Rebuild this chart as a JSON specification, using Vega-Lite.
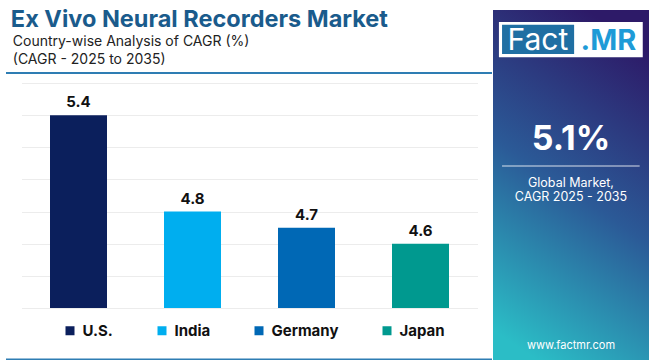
{
  "$schema": "https://vega.github.io/schema/vega-lite/v6.json",
  "padding": {"left": 5, "top": 8, "right": 3, "bottom": 0},
  "background": "white",
  "config": {"font": "Inter", "view": {"stroke": null}},
  "datasets": {
    "cagr": [
      {"country": "U.S.", "cagr": 5.4},
      {"country": "India", "cagr": 4.8},
      {"country": "Germany", "cagr": 4.7},
      {"country": "Japan", "cagr": 4.6}
    ],
    "one": [{"label": "panel"}]
  },
  "spacing": 0,
  "resolve": {"scale": {"color": "independent"}, "legend": {"color": "independent"}},
  "hconcat": [
    {
      "spacing": 9,
      "center": true,
      "resolve": {"scale": {"color": "independent"}, "legend": {"color": "independent"}},
      "vconcat": [
        {
          "width": 486,
          "height": 63,
          "data": {"name": "one"},
          "layer": [
            {
              "mark": {"type": "text", "text": "Ex Vivo Neural Recorders Market", "fontSize": 23.5, "fontWeight": 700, "color": "#1a5b8c", "align": "left", "baseline": "alphabetic"},
              "encoding": {
                "x": {"datum": 0.01, "type": "quantitative", "scale": {"domain": [0, 1]}, "axis": null},
                "y": {"datum": 0.73, "type": "quantitative", "scale": {"domain": [0, 1]}, "axis": null}
              }
            },
            {
              "mark": {"type": "text", "text": "Country-wise Analysis of CAGR (%)", "fontSize": 14, "color": "#222222", "align": "left", "baseline": "alphabetic"},
              "encoding": {
                "x": {"datum": 0.014, "type": "quantitative", "axis": null},
                "y": {"datum": 0.43, "type": "quantitative", "axis": null}
              }
            },
            {
              "mark": {"type": "text", "text": "(CAGR - 2025 to 2035)", "fontSize": 14, "color": "#222222", "align": "left", "baseline": "alphabetic"},
              "encoding": {
                "x": {"datum": 0.014, "type": "quantitative", "axis": null},
                "y": {"datum": 0.143, "type": "quantitative", "axis": null}
              }
            },
            {
              "mark": {"type": "rule", "color": "#2e7db3", "strokeWidth": 2},
              "encoding": {
                "x": {"datum": 0, "type": "quantitative", "axis": null},
                "x2": {"datum": 1},
                "y": {"datum": 0, "type": "quantitative", "axis": null}
              }
            }
          ]
        },
        {
          "width": 456,
          "height": 225,
          "data": {"name": "cagr"},
          "encoding": {
            "x": {
              "field": "country",
              "type": "nominal",
              "sort": ["U.S.", "India", "Germany", "Japan"],
              "axis": null,
              "scale": {"paddingInner": 0.5, "paddingOuter": 0.25}
            },
            "y": {
              "field": "cagr",
              "type": "quantitative",
              "scale": {"domain": [4.2, 5.6], "zero": false, "nice": false},
              "axis": {
                "values": [4.2, 4.4, 4.6, 4.8, 5.0, 5.2, 5.4, 5.6],
                "grid": true,
                "gridColor": "#ececec",
                "labels": false,
                "ticks": false,
                "domain": false,
                "title": null
              }
            }
          },
          "layer": [
            {
              "mark": {"type": "bar"},
              "encoding": {
                "y2": {"datum": 4.2},
                "color": {
                  "field": "country",
                  "type": "nominal",
                  "sort": ["U.S.", "India", "Germany", "Japan"],
                  "scale": {
                    "domain": ["U.S.", "India", "Germany", "Japan"],
                    "range": ["#0b1f5c", "#00aeef", "#0068b5", "#00998f"]
                  },
                  "legend": {
                    "title": null,
                    "orient": "none",
                    "legendX": 31,
                    "legendY": 230,
                    "direction": "horizontal",
                    "symbolType": "square",
                    "symbolSize": 81,
                    "symbolStrokeWidth": 0,
                    "symbolOpacity": 1,
                    "labelFontSize": 15,
                    "labelFontWeight": 700,
                    "labelColor": "#111111",
                    "columnPadding": 41,
                    "labelOffset": 5,
                    "padding": 10,
                    "labelLimit": 200
                  }
                }
              }
            },
            {
              "mark": {"type": "text", "dy": -13, "fontSize": 15, "fontWeight": 700, "color": "#111111"},
              "encoding": {"text": {"field": "cagr", "type": "quantitative", "format": ".1f"}}
            }
          ]
        },
        {
          "width": 486,
          "height": 1,
          "data": {"name": "one"},
          "mark": {"type": "rule", "color": "#2e7db3", "strokeWidth": 2},
          "encoding": {
            "x": {"datum": 0, "type": "quantitative", "scale": {"domain": [0, 1]}, "axis": null},
            "x2": {"datum": 1}
          }
        }
      ]
    },
    {
      "width": 156,
      "height": 352,
      "data": {"name": "one"},
      "layer": [
        {
          "mark": {
            "type": "rect",
            "fill": {
              "gradient": "linear",
              "x1": 0.6, "y1": 0, "x2": 0.3, "y2": 1,
              "stops": [
                {"offset": 0, "color": "#2d1a68"},
                {"offset": 0.5, "color": "#2b5a97"},
                {"offset": 1, "color": "#2bbdc6"}
              ]
            }
          },
          "encoding": {
            "x": {"datum": 0, "type": "quantitative", "scale": {"domain": [0, 1]}, "axis": null},
            "x2": {"datum": 1},
            "y": {"datum": 0, "type": "quantitative", "scale": {"domain": [0, 1]}, "axis": null},
            "y2": {"datum": 1}
          }
        },
        {
          "mark": {"type": "rect", "fill": "#ffffff"},
          "encoding": {
            "x": {"datum": 0.038, "type": "quantitative", "axis": null},
            "x2": {"datum": 0.96},
            "y": {"datum": 0.866, "type": "quantitative", "axis": null},
            "y2": {"datum": 0.966}
          }
        },
        {
          "mark": {"type": "rect", "fill": "#1f6fa3"},
          "encoding": {
            "x": {"datum": 0.058, "type": "quantitative", "axis": null},
            "x2": {"datum": 0.52},
            "y": {"datum": 0.875, "type": "quantitative", "axis": null},
            "y2": {"datum": 0.958}
          }
        },
        {
          "mark": {"type": "text", "text": "Fact", "fontSize": 30, "fontWeight": 400, "color": "#ffffff", "baseline": "alphabetic"},
          "encoding": {
            "x": {"datum": 0.288, "type": "quantitative", "axis": null},
            "y": {"datum": 0.886, "type": "quantitative", "axis": null}
          }
        },
        {
          "mark": {"type": "text", "text": ".MR", "fontSize": 29, "fontWeight": 700, "color": "#1e9bd7", "baseline": "alphabetic"},
          "encoding": {
            "x": {"datum": 0.74, "type": "quantitative", "axis": null},
            "y": {"datum": 0.886, "type": "quantitative", "axis": null}
          }
        },
        {
          "mark": {"type": "text", "text": "5.1%", "fontSize": 34, "fontWeight": 700, "color": "#ffffff", "baseline": "alphabetic"},
          "encoding": {
            "x": {"datum": 0.5, "type": "quantitative", "axis": null},
            "y": {"datum": 0.602, "type": "quantitative", "axis": null}
          }
        },
        {
          "mark": {"type": "rule", "color": "#ffffff", "opacity": 0.55, "strokeWidth": 1.5},
          "encoding": {
            "x": {"datum": 0.058, "type": "quantitative", "axis": null},
            "x2": {"datum": 0.94},
            "y": {"datum": 0.557, "type": "quantitative", "axis": null}
          }
        },
        {
          "mark": {"type": "text", "text": "Global Market,", "fontSize": 12.5, "color": "#ffffff", "baseline": "alphabetic"},
          "encoding": {
            "x": {"datum": 0.5, "type": "quantitative", "axis": null},
            "y": {"datum": 0.497, "type": "quantitative", "axis": null}
          }
        },
        {
          "mark": {"type": "text", "text": "CAGR 2025 - 2035", "fontSize": 12.5, "color": "#ffffff", "baseline": "alphabetic"},
          "encoding": {
            "x": {"datum": 0.5, "type": "quantitative", "axis": null},
            "y": {"datum": 0.457, "type": "quantitative", "axis": null}
          }
        },
        {
          "mark": {"type": "text", "text": "www.factmr.com", "fontSize": 11, "color": "#ffffff", "baseline": "alphabetic"},
          "encoding": {
            "x": {"datum": 0.5, "type": "quantitative", "axis": null},
            "y": {"datum": 0.037, "type": "quantitative", "axis": null}
          }
        }
      ]
    }
  ]
}
